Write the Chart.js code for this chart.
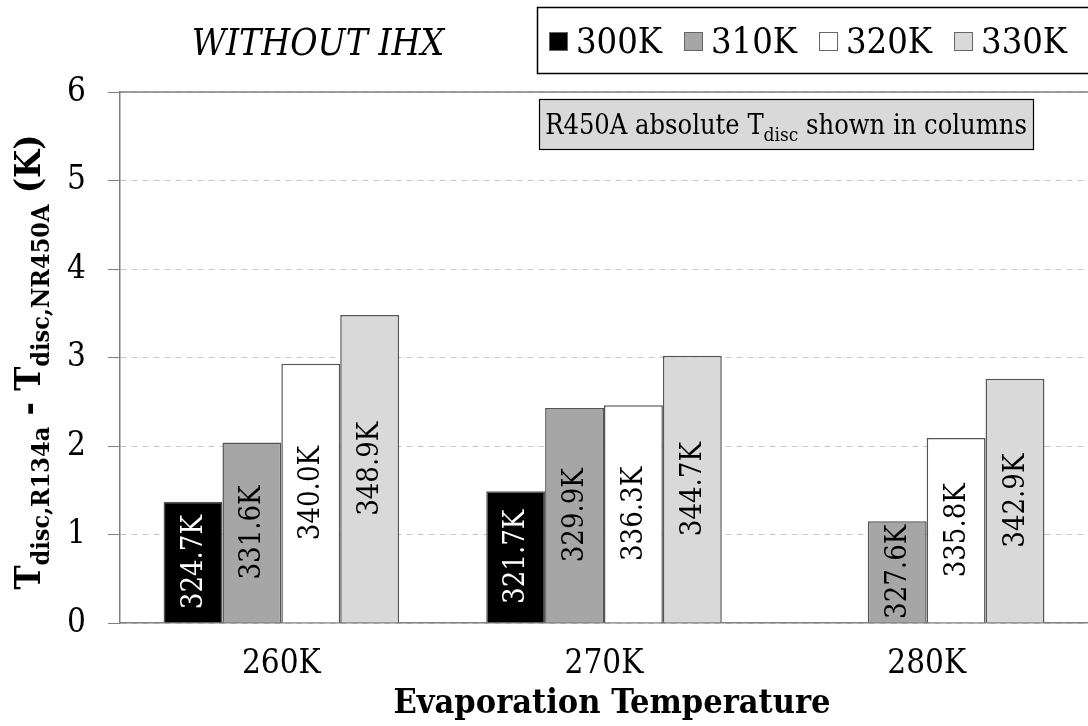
<!DOCTYPE html>
<html>
<head>
<meta charset="utf-8">
<script src="https://cdn.jsdelivr.net/npm/chart.js@4.4.1/dist/chart.umd.min.js"></script>
<style>
  html, body { margin: 0; padding: 0; background: #fff; }
  canvas { display: block; }
</style>
</head>
<body>
<canvas id="chart" width="1088" height="726"></canvas>
<script>
const categories = ["260K", "270K", "280K"];
const seriesNames = ["300K", "310K", "320K", "330K"];
const seriesColors = ["#000000", "#a6a6a6", "#ffffff", "#d9d9d9"];

// T_disc,R134a - T_disc,R450A (K)
const diff300 = [1.37, 1.49, null];
const diff310 = [2.04, 2.43, 1.15];
const diff320 = [2.93, 2.46, 2.09];
const diff330 = [3.48, 3.02, 2.76];

// absolute R450A discharge temperature shown inside the columns
const abs300 = ["324.7K", "321.7K", null];
const abs310 = ["331.6K", "329.9K", "327.6K"];
const abs320 = ["340.0K", "336.3K", "335.8K"];
const abs330 = ["348.9K", "344.7K", "342.9K"];

const yMin = 0;
const yMax = 6;
const yStep = 1;

const FONT = "'DejaVu Serif Condensed', 'Liberation Serif', serif";

const diffs = [diff300, diff310, diff320, diff330];
const absLabels = [abs300, abs310, abs320, abs330];

const datasets = seriesNames.map((name, i) => ({
  label: name,
  data: diffs[i],
  absLabels: absLabels[i],
  backgroundColor: seriesColors[i],
  borderColor: "#555555",
  borderWidth: 1.5,
  categoryPercentage: 0.73,
  barPercentage: 1.0,
}));

// draws rich text (with subscripts) starting at x, baseline y
const drawRuns = (ctx, runs, x, y) => {
  let cx = x;
  runs.forEach((r) => {
    ctx.font = r.font;
    ctx.fillText(r.text, cx, y + (r.dy || 0));
    cx += ctx.measureText(r.text).width;
  });
};
const runsWidth = (ctx, runs) => {
  let w = 0;
  runs.forEach((r) => {
    ctx.font = r.font;
    w += ctx.measureText(r.text).width;
  });
  return w;
};

const barLabels = {
  id: "barLabels",
  afterDatasetsDraw(chart) {
    const { ctx } = chart;
    ctx.save();
    ctx.font = "29px " + FONT;
    ctx.textAlign = "center";
    ctx.textBaseline = "middle";
    chart.data.datasets.forEach((ds, di) => {
      const meta = chart.getDatasetMeta(di);
      meta.data.forEach((bar, i) => {
        const txt = ds.absLabels[i];
        if (ds.data[i] == null || !txt) return;
        const cy = (bar.y + bar.base) / 2;
        ctx.save();
        ctx.translate(bar.x, cy);
        ctx.rotate(-Math.PI / 2);
        ctx.fillStyle = di === 0 ? "#ffffff" : "#000000";
        ctx.fillText(txt, 0, 1);
        ctx.restore();
      });
    });
    ctx.restore();
  },
};

const decor = {
  id: "decor",
  afterDraw(chart) {
    const { ctx, chartArea } = chart;
    ctx.save();

    // solid top edge of plot area
    ctx.strokeStyle = "#808080";
    ctx.lineWidth = 1.5;
    ctx.beginPath();
    ctx.moveTo(chartArea.left, chartArea.top);
    ctx.lineTo(chartArea.right, chartArea.top);
    ctx.stroke();

    ctx.fillStyle = "#000";
    ctx.textBaseline = "alphabetic";

    // title
    ctx.font = "italic 37px " + FONT;
    ctx.textAlign = "center";
    ctx.fillText("WITHOUT IHX", 318, 55);

    // legend box
    ctx.strokeStyle = "#000";
    ctx.lineWidth = 1.5;
    ctx.strokeRect(537.5, 7.5, 560, 66);
    ctx.textAlign = "left";
    ctx.font = "36px " + FONT;
    let lx = 549;
    chart.data.datasets.forEach((ds) => {
      ctx.fillStyle = ds.backgroundColor;
      ctx.fillRect(lx, 32, 19, 19);
      ctx.strokeStyle = "#666";
      ctx.lineWidth = 1;
      ctx.strokeRect(lx + 0.5, 32.5, 18, 18);
      ctx.fillStyle = "#000";
      ctx.fillText(ds.label, lx + 27, 53);
      lx += 27 + ctx.measureText(ds.label).width + 22;
    });

    // annotation box
    ctx.fillStyle = "#d9d9d9";
    ctx.fillRect(539, 99, 494, 50);
    ctx.strokeStyle = "#000";
    ctx.lineWidth = 1.2;
    ctx.strokeRect(539.5, 99.5, 494, 50);
    ctx.fillStyle = "#000";
    const noteRuns = [
      { text: "R450A absolute T", font: "27px " + FONT },
      { text: "disc", font: "19px " + FONT, dy: 7 },
      { text: " shown in columns", font: "27px " + FONT },
    ];
    const nw = runsWidth(ctx, noteRuns);
    drawRuns(ctx, noteRuns, 539 + (494 - nw) / 2, 134);

    // y axis title
    const yRuns = [
      { text: "T", font: "bold 36px " + FONT },
      { text: "disc,R134a", font: "bold 25px " + FONT, dy: 9 },
      { text: " - ", font: "bold 36px " + FONT },
      { text: "T", font: "bold 36px " + FONT },
      { text: "disc,NR450A", font: "bold 25px " + FONT, dy: 9 },
      { text: " (K)", font: "bold 36px " + FONT },
    ];
    const yw = runsWidth(ctx, yRuns);
    ctx.save();
    ctx.translate(40, 362);
    ctx.rotate(-Math.PI / 2);
    drawRuns(ctx, yRuns, -yw / 2, 0);
    ctx.restore();

    // x axis title
    ctx.font = "bold 34px " + FONT;
    ctx.textAlign = "center";
    ctx.fillText("Evaporation Temperature", 612, 713);

    ctx.restore();
  },
};

new Chart(document.getElementById("chart"), {
  type: "bar",
  data: { labels: categories, datasets: datasets },
  options: {
    responsive: false,
    animation: false,
    layout: { padding: { top: 92, right: 0, bottom: 0, left: 0 } },
    plugins: {
      legend: { display: false },
      tooltip: { enabled: false },
    },
    scales: {
      x: {
        grid: { display: false },
        border: { display: true, color: "#808080", width: 1.5 },
        ticks: {
          color: "#000",
          font: { family: FONT, size: 33 },
          padding: 14,
        },
        afterFit: (scale) => {
          scale.height = 103;
        },
      },
      y: {
        min: yMin,
        max: yMax,
        ticks: {
          stepSize: yStep,
          color: "#000",
          font: { family: FONT, size: 33 },
          padding: 22,
        },
        grid: {
          color: "#c8c8c8",
          lineWidth: 1,
          tickLength: 12,
          tickColor: "#808080",
          tickBorderDash: [],
        },
        border: { display: true, color: "#808080", width: 1.5, dash: [6, 5] },
        afterFit: (scale) => {
          scale.width = 120;
        },
      },
    },
  },
  plugins: [barLabels, decor],
});
</script>
</body>
</html>
